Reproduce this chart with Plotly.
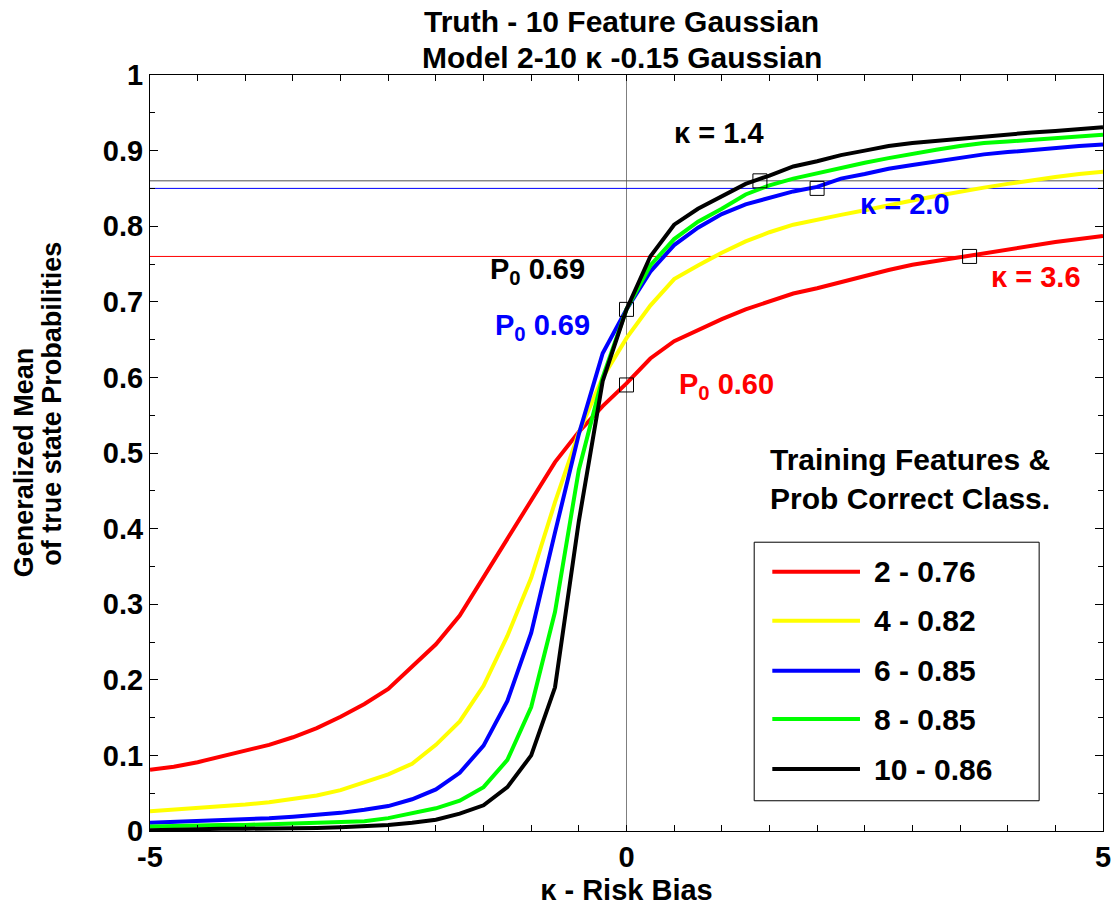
import plotly.graph_objects as go

# ---------------- data ----------------
kappa = [-5.0, -4.75, -4.5, -4.25, -4.0, -3.75, -3.5, -3.25, -3.0, -2.75, -2.5,
         -2.25, -2.0, -1.75, -1.5, -1.25, -1.0, -0.75, -0.5, -0.25, 0.0,
         0.25, 0.5, 0.75, 1.0, 1.25, 1.5, 1.75, 2.0, 2.25, 2.5,
         2.75, 3.0, 3.25, 3.5, 3.75, 4.0, 4.25, 4.5, 4.75, 5.0]

p_feat2 = [0.081, 0.085, 0.091, 0.099, 0.106, 0.114, 0.124, 0.136, 0.151, 0.168, 0.188,
           0.218, 0.247, 0.285, 0.336, 0.387, 0.438, 0.488, 0.528, 0.562, 0.592,
           0.625, 0.648, 0.663, 0.677, 0.690, 0.700, 0.711, 0.718, 0.726, 0.735,
           0.742, 0.749, 0.754, 0.760, 0.764, 0.770, 0.775, 0.779, 0.783, 0.787]

p_feat4 = [0.026, 0.028, 0.030, 0.032, 0.035, 0.038, 0.042, 0.047, 0.054, 0.064, 0.075,
           0.089, 0.114, 0.145, 0.192, 0.258, 0.335, 0.435, 0.527, 0.600, 0.652,
           0.695, 0.730, 0.748, 0.765, 0.780, 0.792, 0.802, 0.809, 0.815, 0.821,
           0.828, 0.834, 0.840, 0.846, 0.851, 0.856, 0.861, 0.865, 0.869, 0.872]

p_feat6 = [0.011, 0.012, 0.013, 0.014, 0.015, 0.017, 0.019, 0.021, 0.024, 0.028, 0.033,
           0.042, 0.055, 0.077, 0.113, 0.172, 0.262, 0.395, 0.525, 0.632, 0.690,
           0.740, 0.775, 0.798, 0.816, 0.829, 0.837, 0.846, 0.852, 0.863, 0.869,
           0.876, 0.881, 0.886, 0.890, 0.895, 0.898, 0.901, 0.904, 0.906, 0.908]

p_feat8 = [0.006, 0.007, 0.007, 0.008, 0.008, 0.009, 0.009, 0.010, 0.011, 0.013, 0.017,
           0.023, 0.030, 0.040, 0.058, 0.094, 0.164, 0.290, 0.478, 0.600, 0.690,
           0.748, 0.783, 0.806, 0.823, 0.842, 0.854, 0.863, 0.870, 0.878, 0.884,
           0.890, 0.896, 0.901, 0.906, 0.910, 0.912, 0.914, 0.916, 0.919, 0.921]

p_feat10 = [0.001, 0.002, 0.002, 0.003, 0.003, 0.003, 0.004, 0.004, 0.005, 0.006, 0.008,
            0.011, 0.015, 0.023, 0.034, 0.058, 0.100, 0.190, 0.410, 0.595, 0.690,
            0.760, 0.802, 0.823, 0.840, 0.856, 0.867, 0.879, 0.886, 0.894, 0.900,
            0.906, 0.910, 0.913, 0.916, 0.919, 0.922, 0.924, 0.926, 0.928, 0.931]

series_names = ["2 - 0.76", "4 - 0.82", "6 - 0.85", "8 - 0.85", "10 - 0.86"]
series_values = [p_feat2, p_feat4, p_feat6, p_feat8, p_feat10]
series_colors = ["#ff0000", "#ffff00", "#0000ff", "#00ff00", "#000000"]

# reference (horizontal) levels
ref_levels = [0.86, 0.85, 0.76]
ref_colors = ["#505050", "#0000ff", "#ff0000"]

# highlighted points (square markers)
box_x = [0.0, 0.0, 1.4, 2.0, 3.6]
box_y = [0.69, 0.59, 0.86, 0.85, 0.76]

# kappa annotations
kappa_labels = ["κ = 1.4", "κ = 2.0", "κ = 3.6"]
kappa_label_x = [0.97, 2.92, 4.30]
kappa_label_y = [0.923, 0.829, 0.733]
kappa_label_colors = ["#000000", "#0000ff", "#ff0000"]

# P0 annotations
p0_values = ["0.69", "0.69", "0.60"]
p0_x = [-1.453, -1.40, 0.53]
p0_y = [0.741, 0.667, 0.588]
p0_colors = ["#000000", "#0000ff", "#ff0000"]

title_lines = ["Truth - 10 Feature Gaussian", "Model 2-10 κ -0.15 Gaussian"]

x_tick_vals = [-5, 0, 5]
x_tick_text = ["-5", "0", "5"]
y_tick_vals = [0, 0.1, 0.2, 0.3, 0.4, 0.5, 0.6, 0.7, 0.8, 0.9, 1.0]
y_tick_text = ["0", "0.1", "0.2", "0.3", "0.4", "0.5", "0.6", "0.7", "0.8", "0.9", "1"]

FONT = "Arial, Liberation Sans, sans-serif"

fig = go.Figure()

# vertical zero line
fig.add_trace(go.Scatter(x=[0, 0], y=[0, 1], mode="lines",
                         line=dict(color="#7f7f7f", width=1), hoverinfo="skip"))
# horizontal reference lines
for lvl, col in zip(ref_levels, ref_colors):
    fig.add_trace(go.Scatter(x=[-5, 5], y=[lvl, lvl], mode="lines",
                             line=dict(color=col, width=1), hoverinfo="skip"))

for name, vals, col in zip(series_names, series_values, series_colors):
    fig.add_trace(go.Scatter(x=kappa, y=vals, mode="lines", name=name,
                             line=dict(color=col, width=4)))

fig.add_trace(go.Scatter(x=box_x, y=box_y, mode="markers",
                         marker=dict(symbol="square-open", size=14, color="black",
                                     line=dict(width=1, color="black")),
                         hoverinfo="skip"))

annotations = []
for t, x, y, c in zip(kappa_labels, kappa_label_x, kappa_label_y, kappa_label_colors):
    annotations.append(dict(text=t, x=x, y=y, xref="x", yref="y", showarrow=False,
                            font=dict(size=29, color=c, family=FONT, weight="bold"),
                            xanchor="center", yanchor="middle"))
for v, x, y, c in zip(p0_values, p0_x, p0_y, p0_colors):
    annotations.append(dict(text="P<sub>0</sub> " + v, x=x, y=y, xref="x", yref="y",
                            showarrow=False,
                            font=dict(size=29, color=c, family=FONT, weight="bold"),
                            xanchor="left", yanchor="middle"))

# title lines (placed above the plot frame)
for t, ty in zip(title_lines, [1.0714, 1.0238]):
    annotations.append(dict(text=t, x=0.495, y=ty, xref="paper", yref="paper",
                            showarrow=False, xanchor="center", yanchor="middle",
                            font=dict(size=30, color="black", family=FONT, weight="bold")))

# y-axis title lines
annotations.append(dict(text="Generalized Mean", x=-0.132, y=0.488, xref="paper", yref="paper",
                        textangle=-90, showarrow=False, xanchor="center", yanchor="middle",
                        font=dict(size=27, color="black", family=FONT, weight="bold")))
annotations.append(dict(text="of true state Probabilities", x=-0.103, y=0.565, xref="paper",
                        yref="paper", textangle=-90, showarrow=False, xanchor="center",
                        yanchor="middle",
                        font=dict(size=27, color="black", family=FONT, weight="bold")))

# legend heading
annotations.append(dict(text="Training Features &<br>Prob Correct Class.", x=0.648, y=0.466,
                        xref="paper", yref="paper", showarrow=False, xanchor="left",
                        yanchor="middle", align="left",
                        font=dict(size=30, color="black", family=FONT, weight="bold")))

# manual legend
shapes = [dict(type="rect", xref="paper", yref="paper", x0=0.634, x1=0.933, y0=0.040, y1=0.382,
               line=dict(color="black", width=1), fillcolor="white", layer="above")]
legend_y = [0.343, 0.278, 0.212, 0.148, 0.082]
for name, col, ly in zip(series_names, series_colors, legend_y):
    shapes.append(dict(type="line", xref="paper", yref="paper", x0=0.653, x1=0.745,
                       y0=ly, y1=ly, line=dict(color=col, width=4), layer="above"))
    annotations.append(dict(text=name, x=0.758, y=ly, xref="paper", yref="paper",
                            showarrow=False, xanchor="left", yanchor="middle",
                            font=dict(size=30, color="black", family=FONT, weight="bold")))

fig.update_layout(
    width=1117, height=906,
    margin=dict(l=150, r=14, t=75, b=75),
    paper_bgcolor="white", plot_bgcolor="white",
    font=dict(family=FONT, size=28, color="black", weight="bold"),
    showlegend=False,
    annotations=annotations,
    shapes=shapes,
)

fig.update_xaxes(range=[-5, 5], tickvals=x_tick_vals, ticktext=x_tick_text,
                 ticks="inside", ticklen=6, tickcolor="black", showline=True,
                 linecolor="black", linewidth=1, mirror="allticks", showgrid=False,
                 zeroline=False, automargin=False,
                 minor=dict(dtick=0.5, ticks="inside", ticklen=6,
                            tickcolor="black", showgrid=False),
                 title=dict(text="κ - Risk Bias", standoff=8,
                            font=dict(size=29, family=FONT, weight="bold")),
                 tickfont=dict(size=29, family=FONT, weight="bold"))
fig.update_yaxes(range=[0, 1], tickvals=y_tick_vals, ticktext=y_tick_text,
                 ticks="inside", ticklen=8, tickcolor="black", showline=True,
                 linecolor="black", linewidth=1, mirror="allticks", showgrid=False,
                 zeroline=False, automargin=False,
                 minor=dict(dtick=0.05, ticks="inside", ticklen=5,
                            tickcolor="black", showgrid=False),
                 tickfont=dict(size=29, family=FONT, weight="bold"))

fig.write_html("out.html")
